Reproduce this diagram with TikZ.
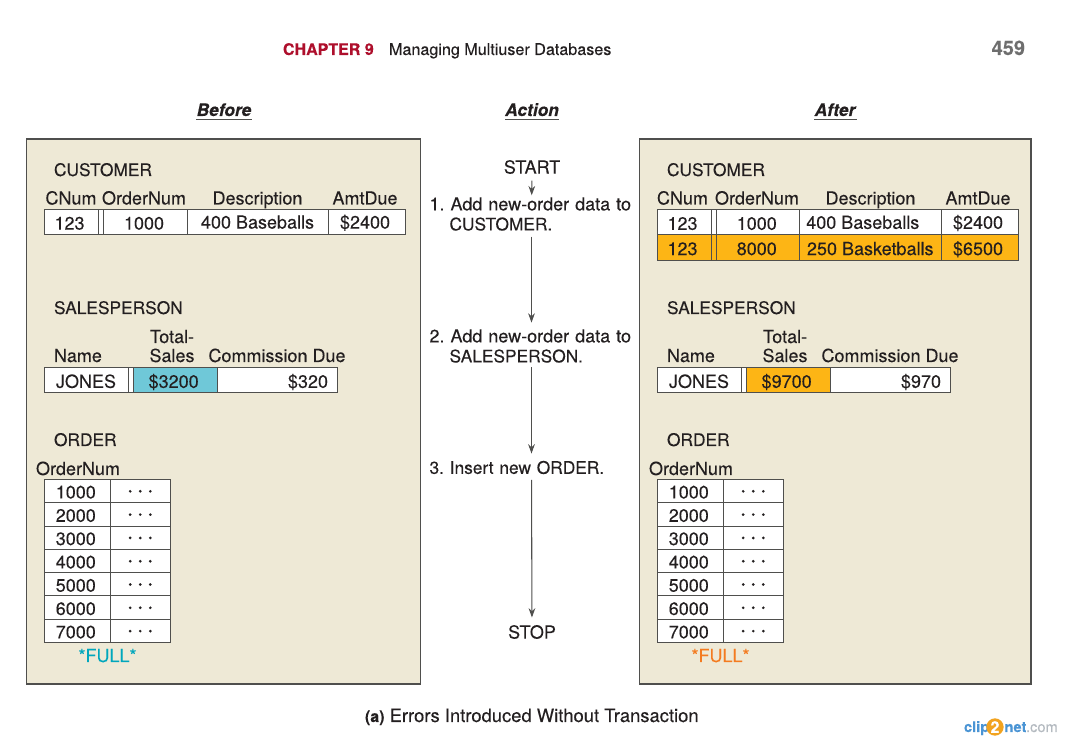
\documentclass[tikz,border=0pt]{standalone}
\usepackage{fontspec}
\setmainfont{TeX Gyre Heros}[FakeBold=0.12]
\usetikzlibrary{arrows.meta}
\definecolor{panelbg}{HTML}{EEE9D6}
\definecolor{edge}{HTML}{4F4F4D}
\definecolor{inkc}{HTML}{231F20}
\definecolor{chapred}{HTML}{AE0F2C}
\definecolor{pagegray}{HTML}{6E6E6E}
\definecolor{oldcell}{HTML}{6FC8D8}
\definecolor{newcell}{HTML}{FDB515}
\definecolor{fullcyan}{HTML}{00A7BD}
\definecolor{fullorange}{HTML}{F47B20}
\definecolor{logoblue}{HTML}{4A94D4}
\definecolor{logogray}{HTML}{B4BAC0}
\definecolor{logoorange}{HTML}{F2A31F}
\newcommand{\capsize}{\fontsize{13}{15}\selectfont}
\tikzset{
  x=0.75pt,y=-0.75pt,
  base/.style={inner sep=0pt,outer sep=0pt,text=inkc,font=\fontsize{13.5}{15}\selectfont},
  lbl/.style={base,anchor=base},
  llbl/.style={base,anchor=base west},
  panel/.style={draw=edge,line width=0.85pt,fill=panelbg},
  cellbox/.style={base,draw=edge,line width=0.75pt,fill=white,text height=11pt,text depth=0pt},
  head/.style={base,anchor=base,font=\fontsize{13}{15.6}\bfseries\itshape\selectfont},
  headrule/.style={draw=edge,line width=0.95pt},
  flow/.style={draw=edge,line width=0.8pt,-{Stealth[length=7pt,width=5pt]}},
  stepnode/.style={base,anchor=center,text width=153pt,align=left,inner ysep=3.5pt},
  termnode/.style={base,anchor=center,inner ysep=5pt,inner xsep=3pt},
  capnode/.style={llbl,font=\capsize},
  rowup/.style={text height=9.5pt},
}
% \cell[options]{name}{x1}{y1}{x2}{y2}{text}
\newcommand{\cell}[7][]{%
  \pgfmathsetlengthmacro{\cw}{(#5-#3)*0.75pt}%
  \pgfmathsetlengthmacro{\ch}{(#6-#4)*0.75pt}%
  \node[cellbox,minimum width=\cw,minimum height=\ch,#1] (#2) at ({(#3+#5)/2},{(#4+#6)/2}) {#7};%
}
\newcommand{\ordertable}[2]{% prefix, x offset
  \foreach \v [count=\i from 0] in {1000,2000,3000,4000,5000,6000,7000}{%
    \pgfmathsetmacro{\ya}{479.5+23.3*\i}%
    \pgfmathsetmacro{\yb}{479.5+23.3*(\i+1)}%
    \pgfmathsetmacro{\xa}{44+#2}%
    \pgfmathsetmacro{\xb}{110.5+#2}%
    \pgfmathsetmacro{\xc}{170+#2}%
    \cell{#1o\i a}{\xa}{\ya}{\xb}{\yb}{\hspace{-2.2pt}\v}
    \cell{#1o\i b}{\xb}{\ya}{\xc}{\yb}{\raisebox{2pt}{\textbf{·\hspace{3.8pt}·\hspace{3.8pt}·}}}
  }%
}
\begin{document}
\begin{tikzpicture}
\useasboundingbox (0,0) rectangle (1072,737);
\fill[white] (0,0) rectangle (1072,737);

% running head
\node[lbl,anchor=base west,font=\fontsize{12}{14}\bfseries\selectfont,text=chapred] (chap) at (283,55) {CHAPTER 9};
\node[llbl,font=\fontsize{12.1}{14}\selectfont] (mm) at (389,55) {Managing Multiuser Databases};
\node[lbl,anchor=base east,font=\fontsize{15}{18}\bfseries\selectfont,text=pagegray] (page) at (1025,55) {459};

% column heads
\node[head] (hbefore) at (224,116) {Before};
\node[head] (haction) at (532,116) {Action};
\node[head] (hafter) at (835,116) {After};
\draw[headrule] (196,119.8) -- (252,119.8);
\draw[headrule] (505,119.8) -- (559,119.8);
\draw[headrule] (814,119.8) -- (857,119.8);

% panels
\node[panel,minimum width=295.5pt,minimum height=408.75pt,inner sep=0pt] (pleft) at (223.5,411.5) {};
\node[panel,minimum width=293.6pt,minimum height=408.75pt,inner sep=0pt] (pright) at (835.25,411.5) {};

% LEFT
\node[capnode] (lcust) at (54,176) {CUSTOMER};
\node[lbl] (lh1) at (71,204.5) {CNum};
\node[lbl] (lh2) at (144,204.5) {OrderNum};
\node[lbl] (lh3) at (257.5,204.5) {Description};
\node[lbl] (lh4) at (365,204.5) {AmtDue};
\cell{lc1}{44}{209.5}{98}{235}{\hspace{-2.2pt}123}
\cell{lc2}{98}{209.5}{103}{235}{}
\cell{lc3}{103}{209.5}{187}{235}{\hspace{-1.5pt}1000}
\cell[rowup]{lc4}{187}{209.5}{328}{235}{400 Baseballs}
\cell[rowup]{lc5}{328}{209.5}{405}{235}{\hspace{-2.2pt}\$2400}

\node[capnode] (lsp) at (54,314) {SALESPERSON};
\node[lbl] (lt1) at (172,343) {Total-};
\node[lbl] (lt2) at (172,362) {Sales};
\node[llbl] (ln) at (54,362) {Name};
\node[llbl] (lcd) at (208.5,362) {Commission Due};
\cell{ls1}{44}{368}{128}{393}{JONES}
\cell{ls2}{128}{368}{133}{393}{}
\cell[fill=oldcell]{ls3}{133}{368}{217}{393}{\hspace{-2pt}\$3200}
\cell[text width=76.5pt,align=right]{ls4}{217}{368}{337}{393}{\$320}

\node[capnode] (lord) at (54,446) {ORDER};
\node[llbl] (lon) at (36,475) {OrderNum};
\ordertable{l}{0}
\node[lbl,text=fullcyan] (lfull) at (107.5,662) {*FULL*};

% RIGHT
\node[capnode] (rcust) at (667,176) {CUSTOMER};
\node[lbl] (rh1) at (682.5,204.5) {CNum};
\node[lbl] (rh2) at (757,204.5) {OrderNum};
\node[lbl] (rh3) at (870.5,204.5) {Description};
\node[lbl] (rh4) at (978,204.5) {AmtDue};
\cell{rc1}{657}{210}{711}{235}{\hspace{-2.2pt}123}
\cell{rc2}{711}{210}{716}{235}{}
\cell{rc3}{716}{210}{799.5}{235}{\hspace{-1.5pt}1000}
\cell[rowup]{rc4}{799.5}{210}{941}{235}{\hspace{-11.2pt}400 Baseballs}
\cell[rowup]{rc5}{941}{210}{1018}{235}{\hspace{-2.2pt}\$2400}
\cell[fill=newcell]{rd1}{657}{235}{711}{260.5}{\hspace{-2.2pt}123}
\cell[fill=newcell]{rd2}{711}{235}{716}{260.5}{}
\cell[fill=newcell]{rd3}{716}{235}{799.5}{260.5}{\hspace{-1.5pt}8000}
\cell[fill=newcell]{rd4}{799.5}{235}{941}{260.5}{250 Basketballs}
\cell[fill=newcell]{rd5}{941}{235}{1018}{260.5}{\hspace{-2.2pt}\$6500}

\node[capnode] (rsp) at (667,314) {SALESPERSON};
\node[lbl] (rt1) at (785,343) {Total-};
\node[lbl] (rt2) at (785,362) {Sales};
\node[llbl] (rn) at (667,362) {Name};
\node[llbl] (rcd) at (821.5,362) {Commission Due};
\cell{rs1}{657}{368}{741}{393}{JONES}
\cell{rs2}{741}{368}{746}{393}{}
\cell[fill=newcell]{rs3}{746}{368}{830}{393}{\hspace{-2pt}\$9700}
\cell[text width=76.5pt,align=right]{rs4}{830}{368}{950}{393}{\$970}

\node[capnode] (rord) at (667,446) {ORDER};
\node[llbl] (ron) at (649,475) {OrderNum};
\ordertable{r}{613}
\node[lbl,text=fullorange] (rfull) at (720.5,662) {*FULL*};

% ACTION column
\node[termnode] (start) at (532,167) {START};
\node[stepnode] (s1) at (531.5,214) {1.\ Add new-order data to\\\hspace*{15pt}{\capsize CUSTOMER.}};
\node[stepnode] (s2) at (531.5,346) {2.\ Add new-order data to\\\hspace*{15pt}{\capsize SALESPERSON.}};
\node[stepnode,font=\capsize] (s3) at (531.5,467.5) {3.\ Insert new ORDER.};
\node[termnode] (stop) at (532,632) {STOP};
\draw[flow,shorten >=-2pt] (start) -- (s1);
\draw[flow,shorten <=1pt,shorten >=1.5pt] (s1) -- (s2);
\draw[flow,shorten >=2pt] (s2) -- (s3);
\draw[flow,shorten <=0.8pt,shorten >=0.7pt] (s3) -- (stop);

% caption
\node[llbl,font=\fontsize{13.8}{16}\selectfont] (cap) at (365,722) {{\fontsize{12}{14}\bfseries\selectfont (a)} Errors Introduced Without Transaction};

% watermark
\node[base,anchor=base west,font=\fontsize{11}{13}\bfseries\selectfont,text=logoblue] (lg1) at (964,732) {clip};
\node[circle,fill=logoorange,inner sep=0pt,minimum size=13pt,font=\fontsize{12}{14}\bfseries\selectfont,text=white] (lg2) at (995,727) {2};
\node[base,anchor=base west,font=\fontsize{11}{13}\bfseries\selectfont,text=logoblue] (lg3) at (1004.5,732) {net};
\node[base,anchor=base west,font=\fontsize{11}{13}\selectfont,text=logogray] (lg4) at (1026,732) {.com};
\end{tikzpicture}
\end{document}
